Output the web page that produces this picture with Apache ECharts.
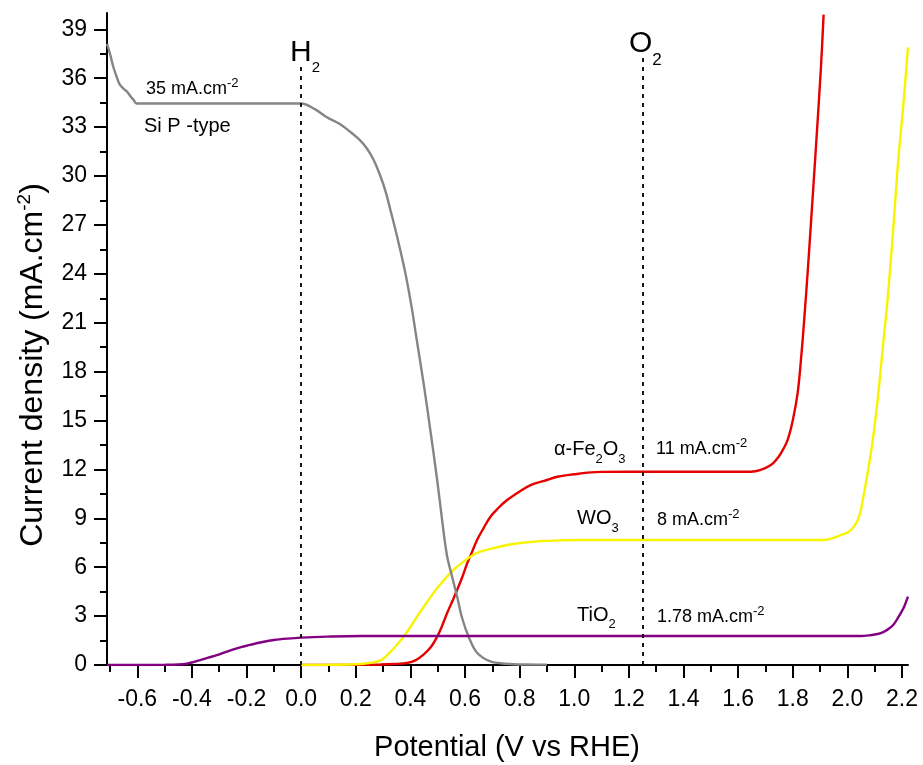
<!DOCTYPE html>
<html>
<head>
<meta charset="utf-8">
<script src="https://cdn.jsdelivr.net/npm/echarts@6/dist/echarts.min.js"></script>
<style>
  html, body { margin: 0; padding: 0; background: #fff; }
  #chart { width: 923px; height: 765px; }
</style>
</head>
<body>
<div id="chart"></div>
<script>
// ---- Axis ticks -------------------------------------------------------
const xMajorTicks = [-0.6, -0.4, -0.2, 0.0, 0.2, 0.4, 0.6, 0.8, 1.0, 1.2, 1.4, 1.6, 1.8, 2.0, 2.2];
const xMinorTicks = [-0.7, -0.5, -0.3, -0.1, 0.1, 0.3, 0.5, 0.7, 0.9, 1.1, 1.3, 1.5, 1.7, 1.9, 2.1];
const yMajorTicks = [0, 3, 6, 9, 12, 15, 18, 21, 24, 27, 30, 33, 36, 39];
const yMinorTicks = [1.5, 4.5, 7.5, 10.5, 13.5, 16.5, 19.5, 22.5, 25.5, 28.5, 31.5, 34.5, 37.5];

// ---- Reference potentials (V vs RHE) ----------------------------------
const h2Potential = 0.0;
const o2Potential = 1.25;

// ---- Current density curves: [potential (V), current (mA.cm-2)] -------
const siPType = [
  [-0.711, 38.1], [-0.700, 37.5], [-0.688, 36.7], [-0.676, 36.1], [-0.664, 35.6],
  [-0.650, 35.35], [-0.639, 35.2], [-0.625, 34.9], [-0.615, 34.7], [-0.602, 34.45],
  [-0.5, 34.45], [-0.3, 34.45], [-0.1, 34.45], [0.0, 34.45], [0.05, 34.1],
  [0.094, 33.6], [0.14, 33.2], [0.18, 32.7], [0.215, 32.2], [0.24, 31.7],
  [0.265, 31.0], [0.29, 30.0], [0.31, 29.0], [0.327, 27.9], [0.351, 26.3],
  [0.382, 24.0], [0.406, 21.8], [0.418, 20.5], [0.449, 17.2], [0.473, 14.4],
  [0.498, 11.35], [0.516, 8.9], [0.534, 6.7], [0.553, 5.4], [0.571, 4.2],
  [0.589, 2.9], [0.614, 1.7], [0.644, 0.75], [0.693, 0.22], [0.75, 0.08],
  [0.82, 0.03], [0.9, 0.02]
];

const fe2o3 = [
  [0.0, 0.0], [0.2, 0.01], [0.29, 0.03], [0.34, 0.06], [0.388, 0.12],
  [0.42, 0.3], [0.449, 0.65], [0.475, 1.1], [0.498, 1.74], [0.516, 2.4],
  [0.534, 3.17], [0.553, 3.9], [0.571, 4.6], [0.59, 5.4], [0.608, 6.24],
  [0.626, 6.95], [0.644, 7.67], [0.668, 8.4], [0.693, 9.1], [0.72, 9.6],
  [0.754, 10.12], [0.8, 10.65], [0.84, 11.04], [0.89, 11.3], [0.938, 11.55],
  [1.0, 11.7], [1.048, 11.8], [1.1, 11.85], [1.3, 11.86], [1.5, 11.86],
  [1.646, 11.86], [1.68, 11.95], [1.72, 12.27], [1.74, 12.6], [1.757, 13.0],
  [1.781, 13.8], [1.8, 15.0], [1.818, 16.7], [1.83, 18.7], [1.842, 21.2],
  [1.855, 24.2], [1.867, 27.2], [1.885, 31.8], [1.903, 36.6], [1.913, 39.9]
];

const wo3 = [
  [0.0, 0.0], [0.1, 0.01], [0.2, 0.05], [0.25, 0.12], [0.29, 0.28],
  [0.315, 0.6], [0.338, 1.0], [0.36, 1.42], [0.381, 1.88], [0.4, 2.33],
  [0.424, 2.96], [0.45, 3.6], [0.473, 4.15], [0.5, 4.75], [0.534, 5.42],
  [0.565, 5.95], [0.595, 6.34], [0.625, 6.7], [0.656, 6.95], [0.7, 7.15],
  [0.754, 7.36], [0.81, 7.5], [0.876, 7.6], [0.95, 7.65], [1.023, 7.67],
  [1.2, 7.67], [1.5, 7.67], [1.75, 7.67], [1.915, 7.67], [1.95, 7.8],
  [1.977, 7.98], [2.0, 8.12], [2.013, 8.28], [2.028, 8.6], [2.038, 8.9],
  [2.048, 9.4], [2.056, 10.1], [2.065, 10.9], [2.074, 11.76], [2.093, 13.8],
  [2.111, 16.3], [2.123, 18.3], [2.135, 20.35], [2.145, 22.0], [2.166, 26.3],
  [2.184, 30.5], [2.205, 34.4], [2.222, 37.9]
];

const tio2 = [
  [-0.711, 0.0], [-0.6, 0.0], [-0.5, 0.01], [-0.45, 0.03], [-0.419, 0.08],
  [-0.395, 0.18], [-0.37, 0.3], [-0.34, 0.45], [-0.309, 0.6], [-0.28, 0.78],
  [-0.248, 0.96], [-0.22, 1.1], [-0.187, 1.23], [-0.15, 1.38], [-0.1, 1.53],
  [-0.05, 1.62], [0.0, 1.68], [0.094, 1.74], [0.216, 1.78], [0.5, 1.78],
  [1.0, 1.78], [1.5, 1.78], [2.05, 1.78], [2.08, 1.82], [2.111, 1.9],
  [2.135, 2.05], [2.154, 2.25], [2.17, 2.5], [2.184, 2.86], [2.196, 3.2],
  [2.208, 3.58], [2.222, 4.19]
];

// ---- Drawing ------------------------------------------------------------
const FONT = '"Liberation Sans", Arial, sans-serif';
const X_MIN = -0.711, X_MAX = 2.222, Y_MIN = 0, Y_MAX = 40;
const AXIS_COLOR = '#000';

const measureCtx = document.createElement('canvas').getContext('2d');
function textWidth(str, size) {
  measureCtx.font = size + 'px ' + FONT;
  return measureCtx.measureText(str).width;
}
// Lays out runs of text (normal / sub / superscript) along one baseline.
function textRuns(runs, x0, baseline) {
  let x = x0;
  return runs.map(([t, size, shift]) => {
    const el = {
      type: 'text', x: x, y: baseline + shift - 0.31 * size, silent: true,
      style: { text: t, font: size + 'px ' + FONT, fill: '#000', align: 'left', verticalAlign: 'middle' }
    };
    x += textWidth(t, size);
    return el;
  });
}
function runsWidth(runs) {
  return runs.reduce((s, [t, size]) => s + textWidth(t, size), 0);
}

function lineSeries(name, data, color, extra) {
  return Object.assign({
    name: name, type: 'line', data: data, showSymbol: false, symbol: 'none',
    smooth: 0.35, clip: true, silent: true,
    lineStyle: { color: color, width: 2.4 }, z: 3
  }, extra || {});
}

const tickLine = { color: AXIS_COLOR, width: 2 };

const chart = echarts.init(document.getElementById('chart'));

const xTitleRuns = [['Potential (V vs RHE)', 29, 0]];
const yTitleRuns = [['Current density (mA.cm', 32, 0], ['-2', 19, -12], [')', 32, 0]];

const annotations = [
  textRuns([['H', 30, 0], ['2', 15, 11]], 290, 62),
  textRuns([['O', 30, 0], ['2', 17, 13]], 629, 52.7),
  textRuns([['35 mA.cm', 18, 0], ['-2', 13, -8]], 146, 95),
  textRuns([['Si P -type', 20, 0]], 144, 132.7),
  textRuns([['\u03b1-Fe', 20, 0], ['2', 13, 7], ['O', 20, 0], ['3', 13, 7]], 554, 456),
  textRuns([['11 mA.cm', 18, 0], ['-2', 13, -8]], 656, 455),
  textRuns([['WO', 20, 0], ['3', 13, 7]], 577, 525),
  textRuns([['8 mA.cm', 18, 0], ['-2', 13, -8]], 657, 526),
  textRuns([['TiO', 20, 0], ['2', 13, 7]], 577, 621.7),
  textRuns([['1.78 mA.cm', 18, 0], ['-2', 13, -8]], 657, 623)
].flat();

const graphics = annotations.concat([
  { type: 'group', children: textRuns(xTitleRuns, 507 - runsWidth(xTitleRuns) / 2, 757) },
  { type: 'group', x: 43, y: 365, rotation: Math.PI / 2,
    children: textRuns(yTitleRuns, -runsWidth(yTitleRuns) / 2, 0) }
]);

chart.setOption({
  animation: false,
  backgroundColor: '#fff',
  grid: { left: 107, right: 15, top: 13, bottom: 100, containLabel: false, outerBoundsMode: 'none' },
  xAxis: [
    {
      type: 'value', min: X_MIN, max: X_MAX, position: 'bottom',
      axisLine: { show: true, onZero: false, lineStyle: { color: AXIS_COLOR, width: 2 } },
      axisTick: { show: true, customValues: xMajorTicks, length: 13, lineStyle: tickLine },
      axisLabel: { customValues: xMajorTicks, formatter: v => v.toFixed(1), margin: 23,
                   fontSize: 23, fontFamily: FONT, color: '#000' },
      splitLine: { show: false }
    },
    {
      type: 'value', min: X_MIN, max: X_MAX, position: 'bottom',
      axisLine: { show: false, onZero: false },
      axisTick: { show: true, customValues: xMinorTicks, length: 7, lineStyle: tickLine },
      axisLabel: { show: false },
      splitLine: { show: false }
    }
  ],
  yAxis: [
    {
      type: 'value', min: Y_MIN, max: Y_MAX, position: 'left',
      axisLine: { show: true, onZero: false, lineStyle: { color: AXIS_COLOR, width: 2 } },
      axisTick: { show: true, customValues: yMajorTicks, length: 13, lineStyle: tickLine },
      axisLabel: { customValues: yMajorTicks, formatter: v => String(Math.round(v)), margin: 20,
                   fontSize: 23, fontFamily: FONT, color: '#000' },
      splitLine: { show: false }
    },
    {
      type: 'value', min: Y_MIN, max: Y_MAX, position: 'left',
      axisLine: { show: false, onZero: false },
      axisTick: { show: true, customValues: yMinorTicks, length: 7, lineStyle: tickLine },
      axisLabel: { show: false },
      splitLine: { show: false }
    }
  ],
  series: [
    lineSeries('\u03b1-Fe2O3', fe2o3, '#e60000'),
    lineSeries('WO3', wo3, '#f8f400'),
    lineSeries('Si P -type', siPType, '#858585', {
      markLine: {
        silent: true, symbol: 'none', label: { show: false },
        lineStyle: { color: '#000', width: 1.8, type: [4, 5] },
        data: [
          [{ coord: [h2Potential, 0] }, { coord: [h2Potential, 37.0] }],
          [{ coord: [o2Potential, 0] }, { coord: [o2Potential, 37.25] }]
        ]
      }
    }),
    lineSeries('TiO2', tio2, '#830083')
  ],
  graphic: graphics
});
</script>
</body>
</html>
